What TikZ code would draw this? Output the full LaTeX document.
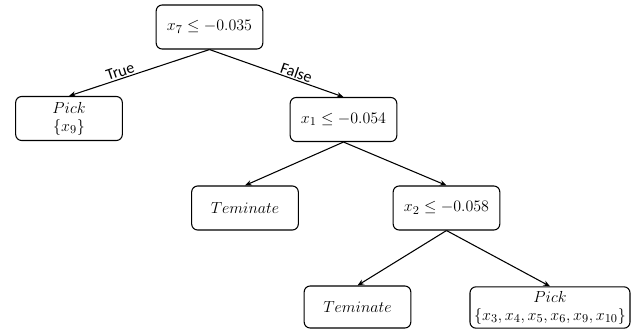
\documentclass[tikz,border=0pt]{standalone}
\usepackage{amsmath,amssymb}
\usepackage{fontspec}
\newfontfamily\edgefont{Carlito}
\usetikzlibrary{arrows.meta}

\begin{document}
\begin{tikzpicture}[x=0.75pt,y=-0.75pt,
box/.style={draw,rounded corners=4.5pt,line width=0.8pt,minimum width=80pt,minimum height=33pt,align=center,font=\fontsize{12.5}{13.5}\selectfont,inner sep=1pt},
edge/.style={line width=0.8pt,-{Stealth[length=5pt,width=4pt]}},
lbl/.style={font=\edgefont\large,sloped,above,inner sep=1pt}]
\useasboundingbox (0,0) rectangle (644,330);
\node[box] (root) at (209.5,27) {$x_7 \leq -0.035$};
\node[box] (pick1) at (69,118.5) {$Pick$\\$\{x_9\}$};
\node[box] (n1) at (343.5,119.5) {$x_1 \leq -0.054$};
\node[box] (term1) at (245,208) {$Teminate$};
\node[box] (n2) at (446.5,208) {$x_2 \leq -0.058$};
\node[box,minimum height=31.5pt] (term2) at (357.5,307) {$Teminate$};
\node[box,minimum width=120pt,minimum height=31pt,inner sep=0pt] (pick2) at (550,307.5) {$Pick$\\$\{x_3,x_4,x_5,x_6,x_9,x_{10}\}$};
\draw[edge] (root.south) -- node[lbl,pos=0.62] {True} (pick1.north);
\draw[edge] (root.south) -- node[lbl,pos=0.63] {False} (n1.north);
\draw[edge] (n1.south) -- (term1.north);
\draw[edge] (n1.south) -- (n2.north);
\draw[edge] (n2.south) -- (term2.north);
\draw[edge] (n2.south) -- (pick2.north);
\end{tikzpicture}
\end{document}
